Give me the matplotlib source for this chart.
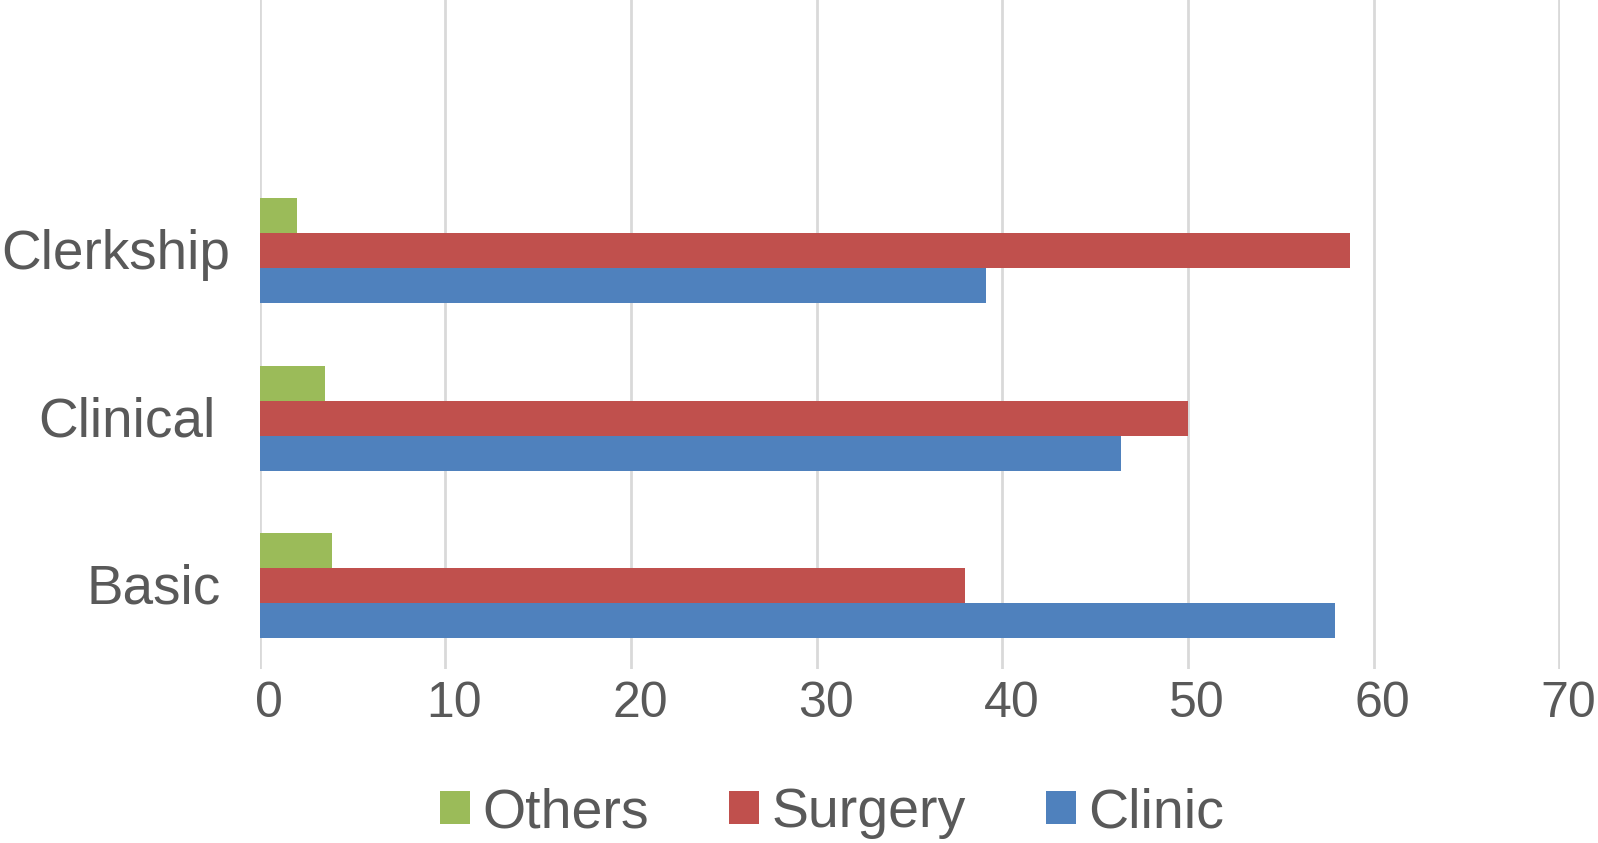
import matplotlib
matplotlib.use("Agg")
import matplotlib.pyplot as plt
import matplotlib.transforms as mtransforms
import numpy as np

categories = ["Basic", "Clinical", "Clerkship"]
others = [3.9, 3.5, 2.0]
surgery = [38.0, 50.0, 58.7]
clinic = [57.9, 46.4, 39.1]
series_names = ["Others", "Surgery", "Clinic"]
xticks = [0, 10, 20, 30, 40, 50, 60, 70]

colors = {"Others": "#9BBB59", "Surgery": "#C0504D", "Clinic": "#4F81BD"}
text_color = "#595959"

plt.rcParams['font.family'] = ['Liberation Sans', 'DejaVu Sans']

W, H = 1598, 843
fig = plt.figure(figsize=(W / 100, H / 100), dpi=100)
ax = fig.add_axes([259.5 / W, 1 - 669 / H, (1559.5 - 259.5) / W, 669 / H])

y = np.arange(len(categories))
h = 0.209
ax.barh(y + h, others, height=h, color=colors["Others"], label="Others", zorder=3)
ax.barh(y, surgery, height=h, color=colors["Surgery"], label="Surgery", zorder=3)
ax.barh(y - h, clinic, height=h, color=colors["Clinic"], label="Clinic", zorder=3)

ax.set_xlim(0, 70)
ax.set_ylim(-0.5, 3.5)
ax.set_xticks(xticks)
ax.set_xticklabels([str(t) for t in xticks])
ax.set_yticks([])

for s in ax.spines.values():
    s.set_visible(False)
ax.xaxis.grid(True, color="#D9D9D9", linewidth=2.0, zorder=0)
ax.set_axisbelow(True)
ax.tick_params(axis="both", length=0)
ax.tick_params(axis="x", labelsize=36, labelcolor=text_color, pad=8.6)
shift = mtransforms.ScaledTranslation(9 / 100, 0, fig.dpi_scale_trans)
for lab in ax.get_xticklabels():
    lab.set_transform(lab.get_transform() + shift)

# category labels (right aligned left of the axis)
label_gap_pts = [28, 32, 21]
for yi, name, gap in zip(y, categories, label_gap_pts):
    trans = mtransforms.blended_transform_factory(ax.transAxes, ax.transData) + \
        mtransforms.ScaledTranslation(-gap / 72, -13 / 72, fig.dpi_scale_trans)
    ax.text(0, yi, name, transform=trans, ha="right", va="baseline",
            fontsize=39.5, color=text_color, clip_on=False)

handles, labels = ax.get_legend_handles_labels()
leg = fig.legend(handles, labels, loc="center", bbox_to_anchor=(832 / W, 1 - 813 / H),
                 ncol=3, frameon=False, fontsize=40, handlelength=0.54, handleheight=0.52,
                 handletextpad=0.22, columnspacing=1.45, labelcolor=text_color)

fig.savefig("out.png", dpi=100, facecolor="white")
